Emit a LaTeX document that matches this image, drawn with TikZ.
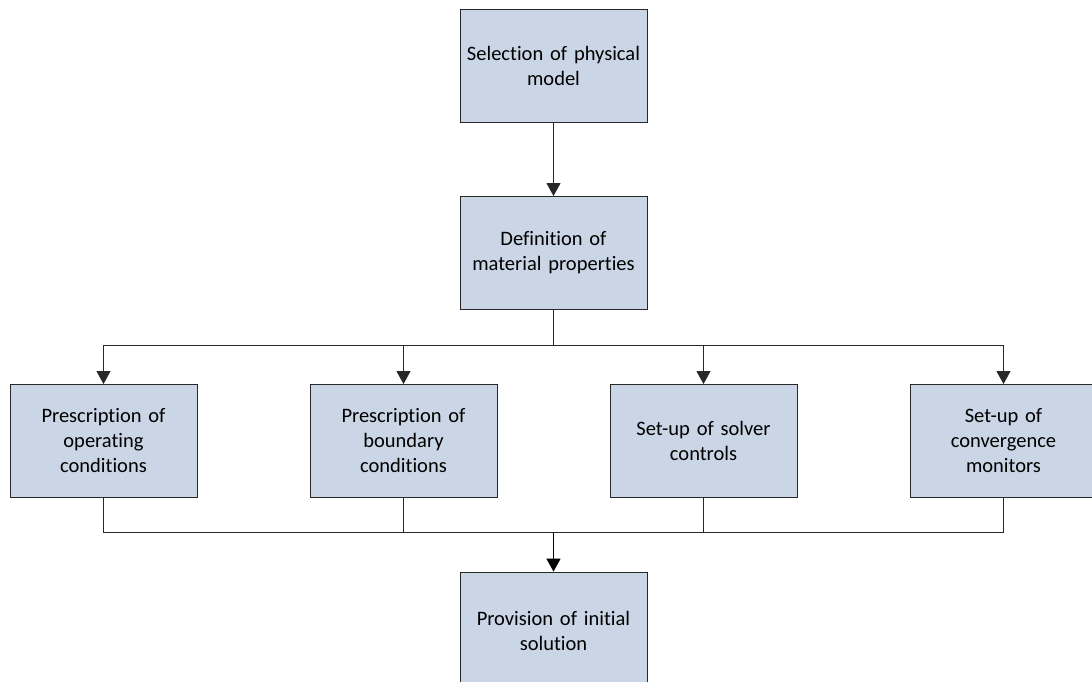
\documentclass[tikz,border=0pt]{standalone}
\usepackage{fontspec}
\setmainfont{Carlito}[Ligatures=NoCommon]
\usetikzlibrary{arrows.meta}
\definecolor{boxfill}{RGB}{202,214,229}
\definecolor{boxline}{RGB}{40,40,40}
\begin{document}
\begin{tikzpicture}[x=1pt,y=-1pt,
  stepbox/.style={draw=boxline,line width=0.9pt,fill=boxfill,minimum width=187pt,minimum height=113pt,
    align=center,text width=180pt,font=\fontsize{20.5}{25}\selectfont,inner sep=0pt},
  link/.style={draw=boxline,line width=0.9pt},
  arr/.style={link,-{Triangle[width=14pt,length=13pt]}}]
\useasboundingbox (0,0) rectangle (1092,682);
\node[stepbox] (sel) at (553.5,65.5) {Selection of physical\\model};
\node[stepbox] (mat) at (553.5,253) {Definition of\\material properties};
\node[stepbox] (op) at (103.5,441) {Prescription of\\operating\\conditions};
\node[stepbox] (bc) at (403.5,441) {Prescription of\\boundary\\conditions};
\node[stepbox] (sc) at (703.5,441) {Set-up of solver\\controls};
\node[stepbox] (cm) at (1003.5,441) {Set-up of\\convergence\\monitors};
\node[stepbox,minimum height=118pt] (ini) at (553.5,631) {Provision of initial\\solution};
\coordinate (split) at (553.5,345);
\coordinate (merge) at (553.5,532);
\draw[arr] (sel) -- (mat);
\draw[link] (mat) -- (split);
\foreach \n in {op,bc,sc,cm}{
  \draw[arr] (split) -| (\n.north);
  \draw[link] (\n.south) |- (merge);
}
\draw[arr,line width=1.5pt,draw=black] (merge) -- (ini);
\end{tikzpicture}
\end{document}
